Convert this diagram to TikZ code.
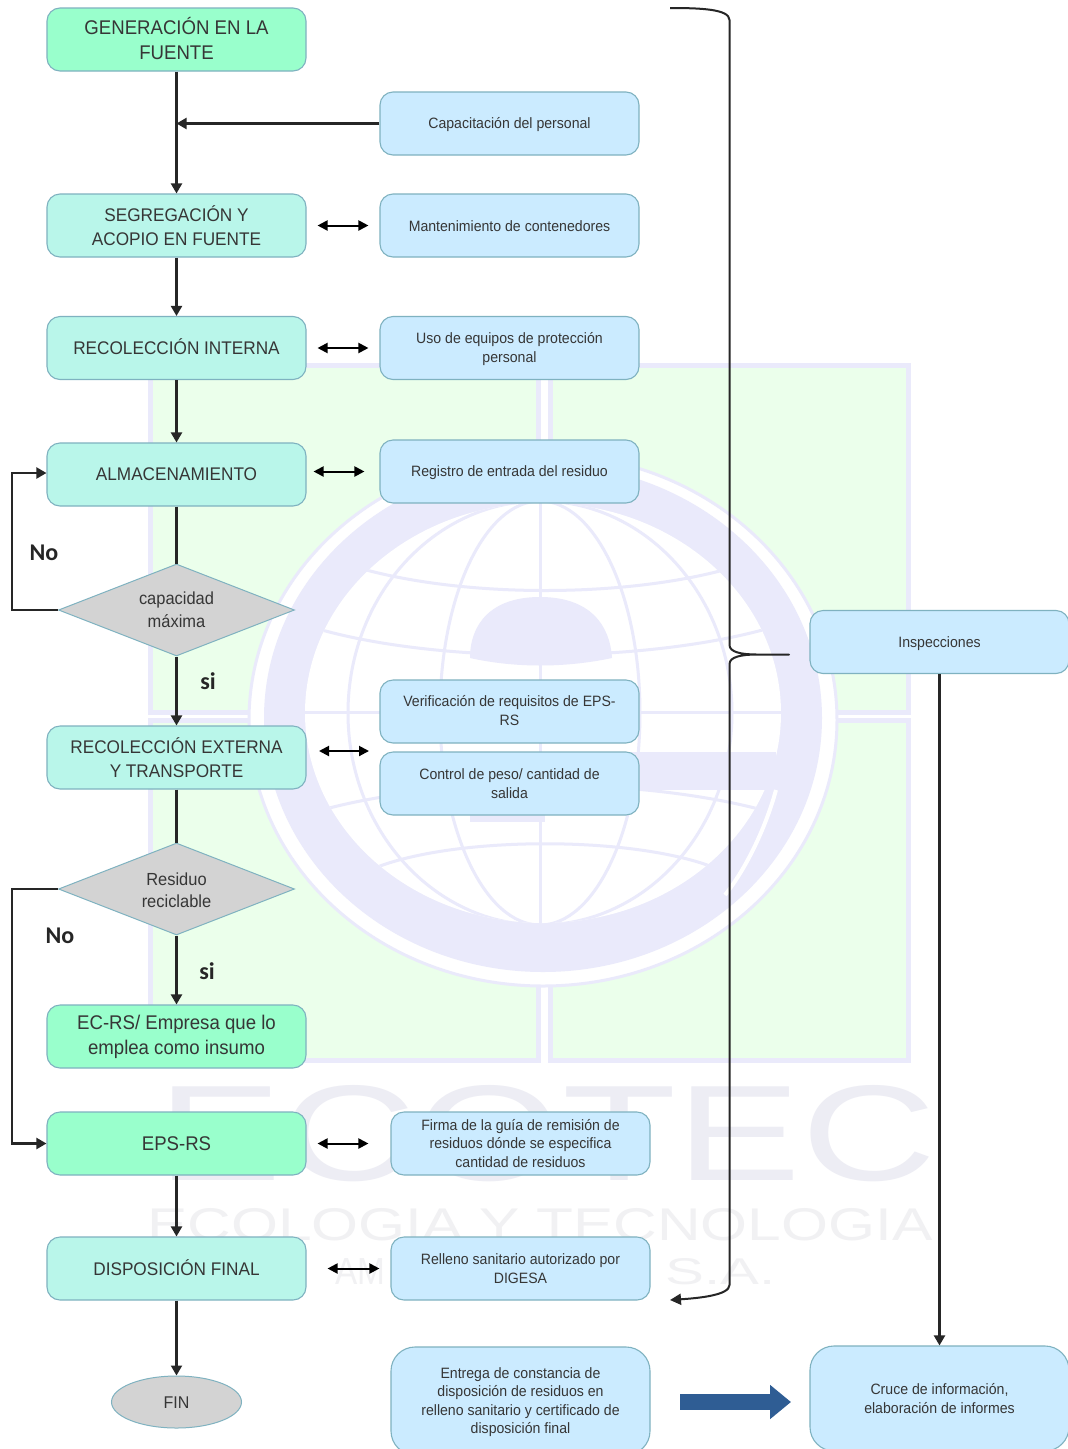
\documentclass[tikz,border=0pt]{standalone}
\usepackage{fontspec}
\usepackage{graphicx}
\setmainfont{Liberation Sans}
\newfontfamily\bodyfont[FakeStretch=0.94]{Liberation Sans}
\newfontfamily\labfont{Carlito}
\newcommand{\nudge}[2]{\raisebox{#1}[\height][\depth]{#2}}
\usetikzlibrary{arrows.meta,shapes.geometric}
\definecolor{wmline}{HTML}{EAEAFB}
\definecolor{wmgreen}{HTML}{EBFFEB}
\definecolor{wmtext}{HTML}{EDEDF4}
\definecolor{wmtextb}{HTML}{F1F1F3}
\definecolor{edgeblue}{HTML}{7FB2C0}
\definecolor{fillblue}{HTML}{CBEBFF}
\definecolor{fillteal}{HTML}{B9F6EA}
\definecolor{fillgreen}{HTML}{99FFCC}
\definecolor{fillgrey}{HTML}{D3D3D3}
\definecolor{txt}{HTML}{363636}
\definecolor{bigarrow}{HTML}{2F5D94}
\tikzset{
  wmframe/.style={draw=wmline,line width=5pt,fill=wmgreen},
  wmcurve/.style={draw=wmline,line width=3pt},
  base/.style={draw=edgeblue,line width=1.1pt,rounded corners=13pt,align=center,inner sep=0pt,text=txt,minimum width=259pt,minimum height=63pt},
  smalltext/.style={font=\bodyfont\fontsize{15}{18.5}\selectfont},
  tealbox/.style={base,font=\bodyfont\fontsize{18.3}{23.5}\selectfont,fill=fillteal},
  greenbox/.style={base,font=\bodyfont\fontsize{19.8}{25}\selectfont,fill=fillgreen},
  bluebox/.style={base,smalltext,fill=fillblue},
  bluebig/.style={bluebox,rounded corners=24pt},
  decision/.style={diamond,aspect=2.56,draw=edgeblue,line width=1pt,fill=fillgrey,align=center,inner sep=0pt,text=txt,minimum width=236pt,minimum height=92pt,font=\bodyfont\fontsize{17.5}{22.5}\selectfont},
  terminal/.style={ellipse,draw=edgeblue,line width=1pt,fill=fillgrey,inner sep=0pt,text=txt,minimum width=130pt,minimum height=52pt,font=\bodyfont\fontsize{17}{20}\selectfont},
  flow/.style={draw=black!85,line width=2.1pt,-{Triangle[length=10pt,width=11pt]}},
  plain/.style={draw=black!85,line width=2.1pt},
  both/.style={draw=black,line width=2pt,{Triangle[length=10pt,width=10pt]}-{Triangle[length=10pt,width=10pt]}},
  brace/.style={draw=black!85,line width=2pt,line join=round},
  lab/.style={font=\labfont\fontsize{24}{24}\selectfont\bfseries,text=black!85,inner sep=0pt},
}
\begin{document}
\begin{tikzpicture}[x=1pt,y=-1pt]
\useasboundingbox (0,0) rectangle (1068,1449);
\clip (0,0) rectangle (1068,1449);
\fill[white] (0,0) rectangle (1068,1449);
% watermark
\path[wmframe] (150,365) rectangle (538,712);
\path[wmframe] (550,365) rectangle (908,712);
\path[wmframe] (150,720) rectangle (538,1060);
\path[wmframe] (550,720) rectangle (908,1060);
\draw[wmline,line width=3pt,fill=white] (543,720) ellipse [x radius=294,y radius=266];
\fill[wmline] (543,718) ellipse [x radius=279,y radius=254];
\fill[white] (543,713) ellipse [x radius=238,y radius=210];
\begin{scope}
\clip (543,713) ellipse [x radius=238,y radius=210];
\path[wmcurve] (540,490) -- (540,930);
\path[wmcurve] (540,713) ellipse [x radius=100,y radius=212];
\path[wmcurve] (540,713) ellipse [x radius=192,y radius=212];
\path[wmcurve] (300,712) -- (790,712);
\path[wmcurve] (340,562) .. controls (450,600) and (640,600) .. (750,562);
\path[wmcurve] (305,625) .. controls (430,665) and (650,665) .. (780,625);
\path[wmcurve] (305,815) .. controls (430,775) and (650,775) .. (780,815);
\path[wmcurve] (370,870) .. controls (450,835) and (640,835) .. (720,870);
\end{scope}
\fill[wmline] (470,658) .. controls (470,625) and (490,597) .. (540,597) .. controls (590,597) and (610,625) .. (612,658) .. controls (565,668) and (515,668) .. (470,658) -- cycle;
\fill[wmline] (470,752) rectangle (776,790);
\fill[wmline] (470,790) rectangle (545,822);
\draw[white,line width=4pt] (776,790) .. controls (765,830) and (745,870) .. (725,895);
\node[text=wmtext,inner sep=0pt,anchor=north west] (wma) at (157,1085) {\resizebox{778pt}{95pt}{ECOTEC}};
\node[text=wmtextb,inner sep=0pt,anchor=north west] (wmb) at (147,1208) {\resizebox{785pt}{32pt}{ECOLOGIA Y TECNOLOGIA}};
\node[text=wmtextb,inner sep=0pt,anchor=north west] (wmc) at (335,1258) {\resizebox{50pt}{26pt}{AM}};
\node[text=wmtextb,inner sep=0pt,anchor=north west] (wmd) at (665,1258) {\resizebox{110pt}{26pt}{S.A.}};
% left column
\node[greenbox] (b1) at (176.5,39.5) {\nudge{1pt}{GENERACIÓN EN LA}\\\nudge{1pt}{FUENTE}};
\node[tealbox] (b2) at (176.5,225.5) {SEGREGACIÓN Y\\ACOPIO EN FUENTE};
\node[tealbox] (b3) at (176.5,348) {\nudge{1.5pt}{RECOLECCIÓN INTERNA}};
\node[tealbox] (b4) at (176.5,474.5) {ALMACENAMIENTO};
\node[decision] (d1) at (176.5,610) {\nudge{.5pt}{capacidad}\\máxima};
\node[tealbox] (b5) at (176.5,757.5) {\nudge{.5pt}{RECOLECCIÓN EXTERNA}\\Y TRANSPORTE};
\node[decision] (d2) at (176.5,889) {\nudge{-1pt}{Residuo}\\\nudge{-1pt}{reciclable}};
\node[greenbox] (b6) at (176.5,1036.5) {EC-RS/ Empresa que lo\\emplea como insumo};
\node[greenbox] (b7) at (176.5,1143.5) {EPS-RS};
\node[tealbox] (b8) at (176.5,1268.5) {\nudge{1pt}{DISPOSICIÓN FINAL}};
\node[terminal] (fin) at (176.5,1402) {\nudge{-1pt}{FIN}};
% right column
\node[bluebox] (cap) at (509.5,123.5) {\nudge{-1pt}{Capacitación del personal}};
\node[bluebox] (man) at (509.5,225.5) {\nudge{-1pt}{Mantenimiento de contenedores}};
\node[bluebox] (uso) at (509.5,348) {\nudge{-1pt}{Uso de equipos de protección}\\\nudge{-1pt}{personal}};
\node[bluebox] (reg) at (509.5,471.5) {\nudge{-1pt}{Registro de entrada del residuo}};
\node[bluebox] (ver) at (509.5,711.5) {\nudge{1pt}{Verificación de requisitos de EPS-}\\\nudge{1pt}{RS}};
\node[bluebox] (con) at (509.5,783.5) {Control de peso/ cantidad de\\salida};
\node[bluebox] (fir) at (520.5,1143.5) {Firma de la guía de remisión de\\residuos dónde se especifica\\cantidad de residuos};
\node[bluebox] (rel) at (520.5,1268.5) {Relleno sanitario autorizado por\\DIGESA};
\node[bluebig,minimum height=108pt] (ent) at (520.5,1401) {\nudge{-1pt}{Entrega de constancia de}\\\nudge{-1pt}{disposición de residuos en}\\\nudge{-1pt}{relleno sanitario y certificado de}\\\nudge{-1pt}{disposición final}};
\node[bluebox] (ins) at (939.5,642) {\nudge{-2pt}{Inspecciones}};
\node[bluebig,minimum height=105pt] (cru) at (939.5,1398.5) {Cruce de información,\\elaboración de informes};
% labels
\node[lab] (no1) at (44,553) {No};
\node[lab] (si1) at (208,681) {si};
\node[lab] (no2) at (60,936) {No};
\node[lab] (si2) at (207,971) {si};
% helper coordinates
\coordinate (j1) at (b1.south |- cap.west);
\coordinate (lp1) at (12,473);
\coordinate (lp2) at (12,1143.5);
\coordinate (da) at (319,751);
\coordinate (db) at (369,751);
\coordinate (br0) at (670,8);
\coordinate (brtip) at (789,654.5);
\coordinate (br1) at (670,1300);
\coordinate (ba) at (680,1402);
\coordinate (bb) at (791,1402);
% connectors
\path[flow] (b1) -- (b2);
\path[flow] (cap.west) -- (j1);
\path[flow] (b2) -- (b3);
\path[flow] (b3) -- (b4);
\path[plain] (b4) -- (d1);
\path[flow] (d1) -- (b5);
\path[plain] (b5) -- (d2);
\path[flow] (d2) -- (b6);
\path[flow] (b7) -- (b8);
\path[flow] (b8) -- (fin);
\path[flow] (d1.west) -| (lp1) -- (b4.west |- lp1);
\path[flow] (d2.west) -| (lp2) -- (b7.west);
\path[both,shorten <=11pt,shorten >=11pt] (b2.east) -- (man.west);
\path[both,shorten <=11pt,shorten >=11pt] (b3.east) -- (uso.west);
\path[both,shorten <=7pt,shorten >=15pt] (b4.east |- reg.west) -- (reg.west);
\path[both] (da) -- (db);
\path[both,shorten <=11pt,shorten >=22pt] (b7.east) -- (fir.west);
\path[both,shorten <=21pt,shorten >=11pt] (b8.east) -- (rel.west);
\path[flow] (ins) -- (cru);
\path[brace,-{Triangle[length=11pt,width=11pt]}] (br0) .. controls (700,8) and (729.5,9) .. (729.5,20) -- (729.5,645) .. controls (729.5,652) and (741,654.5) .. (757,654.5) -- (brtip) -- (757,654.5) .. controls (741,654.5) and (729.5,657) .. (729.5,664) -- (729.5,1285) .. controls (729.5,1295) and (700,1298) .. (br1);
\path[draw=bigarrow,line width=16pt,-{Triangle[length=21pt,width=33pt]}] (ba) -- (bb);
\end{tikzpicture}
\end{document}
